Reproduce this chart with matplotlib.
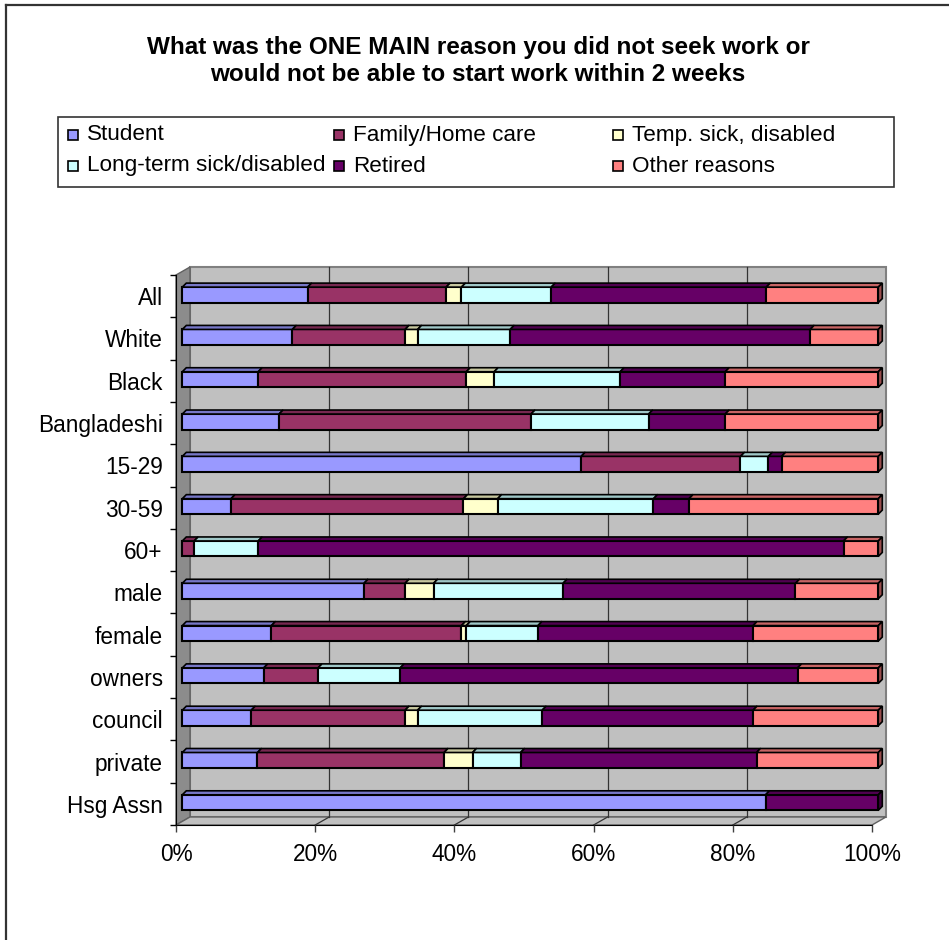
import numpy as np
import matplotlib.pyplot as plt
from matplotlib.patches import Polygon, Rectangle
from matplotlib.lines import Line2D
from matplotlib.transforms import ScaledTranslation, IdentityTransform

plt.rcParams['font.family'] = ['Liberation Sans', 'DejaVu Sans']

# Share of respondents (%) by main reason for not seeking / starting work
categories = ['All', 'White', 'Black', 'Bangladeshi', '15-29', '30-59', '60+',
              'male', 'female', 'owners', 'council', 'private', 'Hsg Assn']
student = [18.0, 15.8, 10.9, 13.9, 57.3, 7.0, 0.0, 26.1, 12.8, 11.7, 9.9, 10.8, 83.8]
family_care = [19.9, 16.2, 29.9, 36.2, 22.9, 33.4, 1.7, 5.9, 27.3, 7.8, 22.1, 26.8, 0.0]
temp_sick = [2.2, 1.8, 4.0, 0.0, 0.0, 4.9, 0.0, 4.1, 0.7, 0.0, 1.8, 4.1, 0.0]
long_term = [12.9, 13.3, 18.1, 16.9, 4.0, 22.4, 9.2, 18.6, 10.3, 11.8, 17.9, 6.9, 0.0]
retired = [30.9, 43.1, 15.1, 11.0, 1.9, 5.1, 84.1, 33.4, 30.9, 57.1, 30.3, 33.9, 16.2]
other = [16.1, 9.8, 22.0, 22.0, 13.9, 27.2, 5.0, 11.9, 18.0, 11.6, 18.0, 17.5, 0.0]

series = [student, family_care, temp_sick, long_term, retired, other]
series_names = ['Student', 'Family/Home care', 'Temp. sick, disabled',
                'Long-term sick/disabled', 'Retired', 'Other reasons']
series_colors = ['#9999FF', '#993366', '#FFFFCC', '#CCFFFF', '#660066', '#FF8080']

W, H = 949, 940
fig = plt.figure(figsize=(W / 100, H / 100), dpi=100)

# front plane of the 3d box in pixels (from top-left)
x0, x1, ytop, ybot = 176, 872, 275, 825
ax = fig.add_axes([x0 / W, 1 - ybot / H, (x1 - x0) / W, (ybot - ytop) / H])
n = len(categories)
ax.set_xlim(0, 100)
ax.set_ylim(n - 0.5, -0.5)
ax.patch.set_visible(False)

wall_off = np.array([14.0, 8.0])    # depth of the walls
bar_off = np.array([6.3, 1.3])      # bars sit a bit inside the box
bar_depth = np.array([4.0, 4.0])    # thickness of each bar
ident = IdentityTransform()


def px(x, y):
    return ax.transData.transform((x, y))


def shade(color, k):
    rgb = np.array(plt.matplotlib.colors.to_rgb(color))
    return tuple(rgb * k)


# walls and floor
fl, fr = px(0, n - 0.5), px(100, n - 0.5)
tl, tr = px(0, -0.5), px(100, -0.5)
ax.add_patch(Polygon([fl + wall_off, fr + wall_off, tr + wall_off, tl + wall_off],
                     closed=True, fc='#C0C0C0', ec='#808080', lw=1.5,
                     transform=ident, clip_on=False, zorder=0.5))
ax.add_patch(Polygon([fl, fl + wall_off, tl + wall_off, tl], closed=True,
                     fc='#8C8C8C', ec='#606060', lw=1,
                     transform=ident, clip_on=False, zorder=0.6))
ax.add_patch(Polygon([fl, fr, fr + wall_off, fl + wall_off], closed=True,
                     fc='#C0C0C0', ec='#606060', lw=1,
                     transform=ident, clip_on=False, zorder=0.6))

# gridlines on the back wall and across the floor
for v in [20, 40, 60, 80]:
    b, t = px(v, n - 0.5), px(v, -0.5)
    ax.add_line(Line2D([b[0] + wall_off[0], t[0] + wall_off[0]],
                       [b[1] + wall_off[1], t[1] + wall_off[1]],
                       color='#333333', lw=0.9, transform=ident, clip_on=False, zorder=0.8))
    ax.add_line(Line2D([b[0], b[0] + wall_off[0]], [b[1], b[1] + wall_off[1]],
                       color='#333333', lw=0.9, transform=ident, clip_on=False, zorder=0.8))

# stacked bars: front faces via barh, then top and end faces
bar_h = 0.366
ypos = np.arange(n)
shift = ScaledTranslation(bar_off[0] / 100, bar_off[1] / 100, fig.dpi_scale_trans)
lefts = np.zeros(n)
for vals, color in zip(series, series_colors):
    vals = np.array(vals)
    m = vals > 0
    ax.barh(ypos[m], vals[m], left=lefts[m], height=bar_h, color=color,
            edgecolor='black', linewidth=1.5, transform=ax.transData + shift,
            zorder=3, clip_on=False)
    for i in np.where(m)[0]:
        l, r = lefts[i], lefts[i] + vals[i]
        tl_b = px(l, ypos[i] - bar_h / 2) + bar_off
        tr_b = px(r, ypos[i] - bar_h / 2) + bar_off
        ax.add_patch(Polygon([tl_b, tr_b, tr_b + bar_depth, tl_b + bar_depth], closed=True,
                             fc=shade(color, 0.78), ec='black', lw=1.2,
                             transform=ident, clip_on=False, zorder=3.1))
    lefts += vals

# end face on the right of every row
for i in range(n):
    seg = [k for k in range(len(series)) if series[k][i] > 0][-1]
    tr_b = px(lefts[i], ypos[i] - bar_h / 2) + bar_off
    br_b = px(lefts[i], ypos[i] + bar_h / 2) + bar_off
    ax.add_patch(Polygon([br_b, br_b + bar_depth, tr_b + bar_depth, tr_b], closed=True,
                         fc=shade(series_colors[seg], 0.6), ec='black', lw=1.2,
                         transform=ident, clip_on=False, zorder=3.1))

# axes, ticks and labels
for s in ['top', 'right']:
    ax.spines[s].set_visible(False)
ax.spines['left'].set_color('black')
ax.spines['bottom'].set_color('black')
ax.spines['left'].set_zorder(1)
ax.spines['bottom'].set_zorder(1)

ax.set_yticks(ypos)
ax.set_yticklabels(categories, fontsize=16.3)
ax.tick_params(axis='y', which='major', length=0, pad=9.5)
ax.set_yticks(np.arange(-0.5, n), minor=True)
ax.tick_params(axis='y', which='minor', length=4.3, width=1, color='black', direction='out')

ax.set_xticks(range(0, 101, 20))
ax.set_xticklabels([f'{v}%' for v in range(0, 101, 20)], fontsize=16.3)
ax.tick_params(axis='x', length=5, width=1, color='#404040', pad=8)

# title
fig.text(478 / W, 1 - 61 / H,
         'What was the ONE MAIN reason you did not seek work or\n'
         'would not be able to start work within 2 weeks',
         ha='center', va='center', fontsize=17.5, fontweight='bold', linespacing=1.25)

# legend laid out in three equal columns
lx0, ly0, lx1, ly1 = 58, 117, 894, 187
fig.add_artist(Rectangle((lx0 / W, 1 - ly1 / H), (lx1 - lx0) / W, (ly1 - ly0) / H,
                         transform=fig.transFigure, fc='white', ec='#333333', lw=1.2))
col_x = [68, 334, 613]
row_y = [135, 166]
for k, (name, color) in enumerate(zip(series_names, series_colors)):
    cx, cy = col_x[k % 3], row_y[k // 3]
    fig.add_artist(Rectangle((cx / W, 1 - (cy + 5) / H), 10 / W, 10 / H,
                             transform=fig.transFigure, fc=color, ec='black', lw=1.2))
    fig.text((cx + 19) / W, 1 - cy / H, name, ha='left', va='center', fontsize=16.2)

# chart border
fig.add_artist(Line2D([6 / W, 1], [1 - 5 / H, 1 - 5 / H], transform=fig.transFigure,
                      color='#333333', lw=1.6))
fig.add_artist(Line2D([6 / W, 6 / W], [0, 1 - 5 / H], transform=fig.transFigure,
                      color='#333333', lw=1.6))

fig.savefig('out.png', dpi=100)
